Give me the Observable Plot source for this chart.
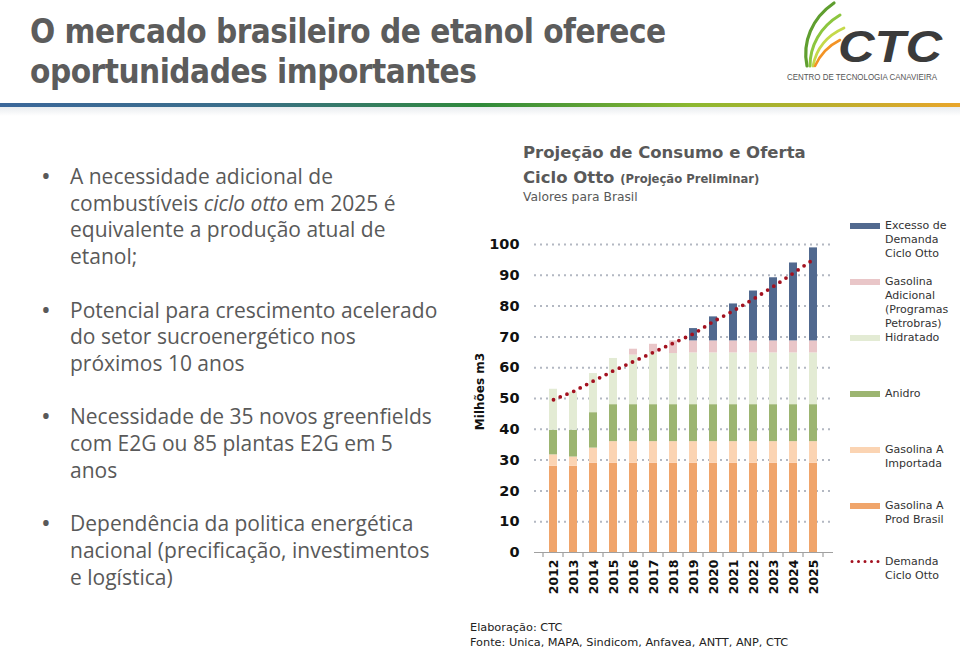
<!DOCTYPE html>
<html><head><meta charset="utf-8">
<script src="https://cdn.jsdelivr.net/npm/d3@7"></script>
<script src="https://cdn.jsdelivr.net/npm/@observablehq/plot@0.6"></script>
<style>
html,body{margin:0;padding:0;}
body{width:960px;height:650px;position:relative;background:#fff;overflow:hidden;font-family:"Open Sans","DejaVu Sans",sans-serif;}
.abs{position:absolute;}
#title{left:30px;top:12px;font-family:"DejaVu Sans Condensed",sans-serif;font-weight:bold;font-size:33px;letter-spacing:-0.5px;line-height:40px;color:#5c5c5c;white-space:nowrap;}
#bar{left:0;top:103px;width:960px;height:4px;background:linear-gradient(to right,#3b679a 0%,#3a6e8a 25%,#2f8a3a 50%,#8cb830 72%,#e9a52a 100%);}
#shadow{left:0;top:107px;width:960px;height:9px;background:linear-gradient(to bottom,#e9ecef,#ffffff);}
#bullets{left:70px;top:163px;font-size:21px;line-height:26.7px;color:#595959;}
#bullets .b{position:relative;margin-bottom:26.7px;white-space:nowrap;}
#bullets .b .dot{position:absolute;left:-29px;top:-1px;font-size:26px;line-height:26.7px;}
.ct{left:523px;font-family:"DejaVu Sans",sans-serif;color:#595959;white-space:nowrap;}
#legend{left:850px;top:0;font-family:"DejaVu Sans",sans-serif;font-size:11px;line-height:14.3px;color:#333;}
.li{position:absolute;left:0;width:110px;}
.sw{position:absolute;left:0;top:4px;width:30px;height:6px;}
.lt{position:absolute;left:35px;top:0;white-space:nowrap;}
#caption{left:470px;top:620px;font-family:"DejaVu Sans",sans-serif;font-size:11.3px;line-height:15px;color:#222;white-space:nowrap;}
</style></head>
<body>
<script>
// ---- data ----
const years = ["2012","2013","2014","2015","2016","2017","2018","2019","2020","2021","2022","2023","2024","2025"];
const seriesNames = ["Gasolina A Prod Brasil","Gasolina A Importada","Anidro","Hidratado","Gasolina Adicional (Programas Petrobras)","Excesso de Demanda Ciclo Otto"];
const seriesColors = ["#f0a56b","#fbd4b3","#9cb571","#e3ebd4","#e9c6c8","#51698f"];
const prodBrasil = [28, 28, 29, 29, 29, 29, 29, 29, 29, 29, 29, 29, 29, 29];
const importada  = [3.7, 3.0, 4.9, 7, 7, 7, 7, 7, 7, 7, 7, 7, 7, 7];
const anidro     = [8.0, 8.7, 11.5, 12, 12, 12, 12, 12, 12, 12, 12, 12, 12, 12];
const hidratado  = [13.3, 12.4, 12.7, 15, 16.1, 16.9, 16.6, 16.8, 16.8, 16.8, 16.8, 16.8, 16.8, 16.8];
const adicional  = [0, 0, 0, 0, 1.9, 2.7, 4.1, 3.9, 3.9, 3.9, 3.9, 3.9, 3.9, 3.9];
const excesso    = [0, 0, 0, 0, 0, 0, 0, 4.0, 7.8, 12.0, 16.2, 20.5, 25.3, 30.2];
const demanda    = [49.6, 52.3, 55.7, 59.0, 62.0, 65.0, 68.0, 71.0, 75.0, 78.5, 82.3, 86.4, 90.7, 95.2];
const yTicks = [0, 10, 20, 30, 40, 50, 60, 70, 80, 90, 100];
const demandName = "Demanda Ciclo Otto";
const demandColor = "#a3111f";
const legendLabels = [
  ["Excesso de","Demanda","Ciclo Otto"],
  ["Gasolina","Adicional","(Programas","Petrobras)"],
  ["Hidratado"],
  ["Anidro"],
  ["Gasolina A","Importada"],
  ["Gasolina A","Prod Brasil"],
  ["Demanda","Ciclo Otto"]
];
const titleLines = ["O mercado brasileiro de etanol oferece","oportunidades importantes"];
const bulletsHtml = [
  "A necessidade adicional de<br>combustíveis <i>ciclo otto</i> em 2025 é<br>equivalente a produção atual de<br>etanol;",
  "Potencial para crescimento acelerado<br>do setor sucroenergético nos<br>próximos 10 anos",
  "Necessidade de 35 novos greenfields<br>com E2G ou 85 plantas E2G em 5<br>anos",
  "Dependência da politica energética<br>nacional (precificação, investimentos<br>e logística)"
];
</script>

<div id="title" class="abs"></div>
<div id="bar" class="abs"></div>
<div id="shadow" class="abs"></div>

<svg class="abs" style="left:780px;top:0px;" width="180" height="100">
  <path d="M27,66 C22,42 32,18 54,3" fill="none" stroke="#5f9e2f" stroke-width="3.2" stroke-linecap="round"/>
  <path d="M30,66 C30,46 40,27 60,15" fill="none" stroke="#8cc63f" stroke-width="3" stroke-linecap="round"/>
  <path d="M33,66 C36,50 46,36 64,28" fill="none" stroke="#c5d94a" stroke-width="2.8" stroke-linecap="round"/>
  <path d="M35,66 C40,55 48,46 60,40" fill="none" stroke="#f39325" stroke-width="2.6" stroke-linecap="round"/>
  <text x="58" y="62" font-family="Liberation Sans, Arial, sans-serif" font-weight="bold" font-style="italic" font-size="44" fill="#3b3b3b" textLength="104" lengthAdjust="spacingAndGlyphs">CTC</text>
  <text x="7" y="80" font-family="Liberation Sans, Arial, sans-serif" font-size="8.5" fill="#555" textLength="150" lengthAdjust="spacingAndGlyphs">CENTRO DE TECNOLOGIA CANAVIEIRA</text>
</svg>

<div id="bullets" class="abs"></div>

<div class="abs ct" style="top:141px;font-size:16.5px;font-weight:bold;line-height:24px;">Projeção de Consumo e Oferta</div>
<div class="abs ct" style="top:166px;font-size:16.5px;font-weight:bold;line-height:24px;">Ciclo Otto <span style="font-size:11.6px;">(Projeção Preliminar)</span></div>
<div class="abs ct" style="top:189px;font-size:12.3px;line-height:16px;">Valores para Brasil</div>

<div id="chart" class="abs" style="left:460px;top:230px;"></div>
<div id="legend" class="abs"></div>
<div id="caption" class="abs">Elaboração: CTC<br>Fonte: Unica, MAPA, Sindicom, Anfavea, ANTT, ANP, CTC</div>

<script>
document.getElementById("title").innerHTML = titleLines.join("<br>");
document.getElementById("bullets").innerHTML = bulletsHtml.map(h => `<div class="b"><span class="dot">•</span>${h}</div>`).join("");

const seriesValues = [prodBrasil, importada, anidro, hidratado, adicional, excesso];
const rows = [];
seriesValues.forEach((arr, s) => arr.forEach((v, i) => rows.push({year: years[i], serie: seriesNames[s], value: v})));
const demandRows = years.map((y, i) => ({year: y, value: demanda[i]}));

const chart = Plot.plot({
  width: 400, height: 370,
  marginLeft: 74, marginRight: 27, marginTop: 14, marginBottom: 48,
  x: {domain: years, padding: 0.58, label: null},
  y: {domain: [0, 100], label: null},
  color: {domain: seriesNames, range: seriesColors},
  style: {background: "transparent", overflow: "visible", fontFamily: "DejaVu Sans, sans-serif"},
  marks: [
    Plot.gridY(yTicks.slice(1), {stroke: "#b3b8c2", strokeOpacity: 1, strokeWidth: 2, strokeDasharray: "2,4"}),
    Plot.barY(rows, {x: "year", y: "value", fill: "serie", order: seriesNames}),
    Plot.ruleY([0], {stroke: "#a0a0a0", strokeWidth: 1.2}),
    Plot.line(demandRows, {x: "year", y: "value", stroke: demandColor, strokeWidth: 3.8, strokeDasharray: "0,7.3", strokeLinecap: "round"}),
    Plot.axisY(yTicks, {tickSize: 0, tickPadding: 15, fontSize: 14.5, fontWeight: "bold", fill: "#111", label: null}),
    Plot.axisX({tickSize: 0, tickRotate: -90, tickPadding: 7, fontSize: 12.5, fontWeight: "bold", fill: "#111", label: null}),
    Plot.text(["Milhões m3"], {frameAnchor: "left", textAnchor: "middle", rotate: -90, dx: -54, dy: -7, fontSize: 12, fontWeight: "bold", fill: "#111"})
  ]
});
document.getElementById("chart").appendChild(chart);

// band-boundary tick marks on the x axis, from the chart's own scales
const xs = chart.scale("x"), ys = chart.scale("y");
const gap = (xs.step - xs.bandwidth) / 2;
const bounds = years.map(y => xs.apply(y) - gap).concat([xs.apply(years[years.length - 1]) + xs.bandwidth + gap]);
const y0 = ys.apply(0);
d3.select(chart).append("g").attr("stroke", "#a0a0a0").attr("stroke-width", 1.2)
  .selectAll("line").data(bounds).join("line")
  .attr("x1", d => d).attr("x2", d => d).attr("y1", y0).attr("y2", y0 + 5);

// legend
const legendColors = [seriesColors[5], seriesColors[4], seriesColors[3], seriesColors[2], seriesColors[1], seriesColors[0], null];
const legend = document.getElementById("legend");
legendLabels.forEach((lines, i) => {
  const top = 218.5 + 56 * i;
  const item = document.createElement("div");
  item.className = "li";
  item.style.top = top + "px";
  const c = legendColors[i];
  const sw = c ? `<div class="sw" style="background:${c}"></div>`
    : `<svg class="sw" style="top:3.5px;height:7px;" width="30" height="7"><line x1="2" x2="30" y1="3.5" y2="3.5" stroke="${demandColor}" stroke-width="3" stroke-dasharray="0,6.5" stroke-linecap="round"/></svg>`;
  item.innerHTML = sw + `<div class="lt">${lines.join("<br>")}</div>`;
  legend.appendChild(item);
});
</script>
</body></html>
